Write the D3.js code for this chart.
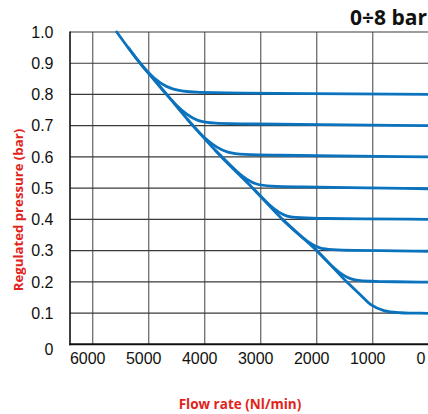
<!DOCTYPE html>
<html><head><meta charset="utf-8">
<script src="https://cdn.jsdelivr.net/npm/d3@7"></script>
<style>html,body{margin:0;padding:0;background:#fff;overflow:hidden}</style>
</head><body>
<svg id="chart" width="428" height="414"></svg>
<script>
// ---- data ----
const xTicks = [6000, 5000, 4000, 3000, 2000, 1000, 0];
const yTicks = [0, 0.1, 0.2, 0.3, 0.4, 0.5, 0.6, 0.7, 0.8, 0.9, 1.0];
const yTickLabels = ["0", "0.1", "0.2", "0.3", "0.4", "0.5", "0.6", "0.7", "0.8", "0.9", "1.0"];
const xTickLabels = ["6000", "5000", "4000", "3000", "2000", "1000", "0"];

// envelope (0.1 bar curve included)
const envelopeFlow = [5571, 5155, 4680, 4210, 3700, 3140, 2610, 2000, 1464, 1200, 1040, 800, 500, 250, 0];
const envelopeP    = [1.0, 0.9, 0.8, 0.7, 0.6, 0.5, 0.4, 0.3, 0.2, 0.155, 0.128, 0.108, 0.101, 0.1, 0.099];

// set-point curves (control points), each starting on the envelope
const curve08Flow = [5363, 5030, 4630, 3800, 0];
const curve08P    = [0.95, 0.87, 0.807, 0.805, 0.80];
const curve07Flow = [4823, 4520, 4150, 3600, 0];
const curve07P    = [0.83, 0.765, 0.708, 0.706, 0.70];
const curve06Flow = [4304, 3990, 3620, 3050, 0];
const curve06P    = [0.72, 0.655, 0.608, 0.606, 0.60];
const curve05Flow = [3802, 3400, 3110, 2600, 0];
const curve05P    = [0.62, 0.547, 0.507, 0.505, 0.498];
const curve04Flow = [3140, 2820, 2560, 2100, 0];
const curve04P    = [0.5, 0.44, 0.405, 0.403, 0.40];
const curve03Flow = [2610, 2240, 1960, 1500, 0];
const curve03P    = [0.4, 0.338, 0.302, 0.301, 0.298];
const curve02Flow = [2000, 1690, 1400, 950, 0];
const curve02P    = [0.3, 0.242, 0.202, 0.201, 0.199];

const setCurves = [
  [curve08Flow, curve08P],
  [curve07Flow, curve07P],
  [curve06Flow, curve06P],
  [curve05Flow, curve05P],
  [curve04Flow, curve04P],
  [curve03Flow, curve03P],
  [curve02Flow, curve02P]
];

// ---- drawing ----
(function () {
const svg = d3.select("#chart");
const pL = 70, pR = 428.7, pT = 32, pB = 344.3;
const x = d3.scaleLinear().domain([6405, 0]).range([pL, pR]);
const y = d3.scaleLinear().domain([0, 1]).range([pB, pT]);

const g = svg.append("g");

// vertical grid
g.selectAll("line.vg").data(xTicks.filter(d => d > 0)).enter().append("line")
  .attr("x1", d => x(d)).attr("x2", d => x(d))
  .attr("y1", pT).attr("y2", pB)
  .attr("stroke", "#777").attr("stroke-width", 1.4);

// horizontal grid
g.selectAll("line.hg").data(yTicks.filter(d => d > 0)).enter().append("line")
  .attr("x1", pL).attr("x2", 428)
  .attr("y1", d => y(d)).attr("y2", d => y(d))
  .attr("stroke", "#3a3a3a").attr("stroke-width", 1.2);

// axes lines
g.append("line").attr("x1", pL).attr("x2", pL).attr("y1", pT - 0.5).attr("y2", pB + 1)
  .attr("stroke", "#111").attr("stroke-width", 1.6);
g.append("line").attr("x1", pL - 0.8).attr("x2", 428).attr("y1", pB).attr("y2", pB)
  .attr("stroke", "#111").attr("stroke-width", 2);

// curves
const style = p => p.attr("fill", "none").attr("stroke", "#0b72bd")
    .attr("stroke-width", 2.8).attr("stroke-linecap", "round").attr("stroke-linejoin", "round");

const envLine = d3.line().x(d => x(d[0])).y(d => y(d[1])).curve(d3.curveCatmullRom.alpha(0.5));
g.append("path").attr("d", envLine(envelopeFlow.map((f, i) => [f, envelopeP[i]]))).call(style);

const setLine = d3.line().x(d => x(d[0])).y(d => y(d[1])).curve(d3.curveBasis);
setCurves.forEach(([fl, pr]) => {
  g.append("path").attr("d", setLine(fl.map((f, i) => [f, pr[i]]))).call(style);
});

// y tick labels
g.selectAll("text.yl").data(yTicks).enter().append("text")
  .attr("x", 53.5).attr("y", d => d === 0 ? y(d) + 5 : y(d))
  .attr("dy", "0.36em").attr("text-anchor", "end")
  .attr("font-family", "Liberation Sans, Arial, sans-serif").attr("font-size", 16)
  .attr("fill", "#111").text((d, i) => yTickLabels[i]);

// x tick labels
g.selectAll("text.xl").data(xTicks).enter().append("text")
  .attr("x", d => Math.min(x(d) - 5, 421)).attr("y", 363.5)
  .attr("text-anchor", "middle")
  .attr("font-family", "Liberation Sans, Arial, sans-serif").attr("font-size", 16)
  .attr("fill", "#111").text((d, i) => xTickLabels[i]);

// titles
svg.append("text").attr("x", 240).attr("y", 409).attr("text-anchor", "middle")
  .attr("font-family", "Open Sans, sans-serif").attr("font-weight", "bold").attr("font-size", 13.5)
  .attr("fill", "#e2231a").text("Flow rate (Nl/min)");
svg.append("text").attr("transform", "translate(23.2,210) rotate(-90)").attr("text-anchor", "middle")
  .attr("font-family", "Open Sans, sans-serif").attr("font-weight", "bold").attr("font-size", 13.2)
  .attr("fill", "#e2231a").text("Regulated pressure (bar)");
svg.append("text").attr("x", 427).attr("y", 25).attr("text-anchor", "end")
  .attr("font-family", "Open Sans, sans-serif").attr("font-weight", "bold").attr("font-size", 21)
  .attr("fill", "#111").text("0÷8 bar");
})();
</script>
</body></html>
